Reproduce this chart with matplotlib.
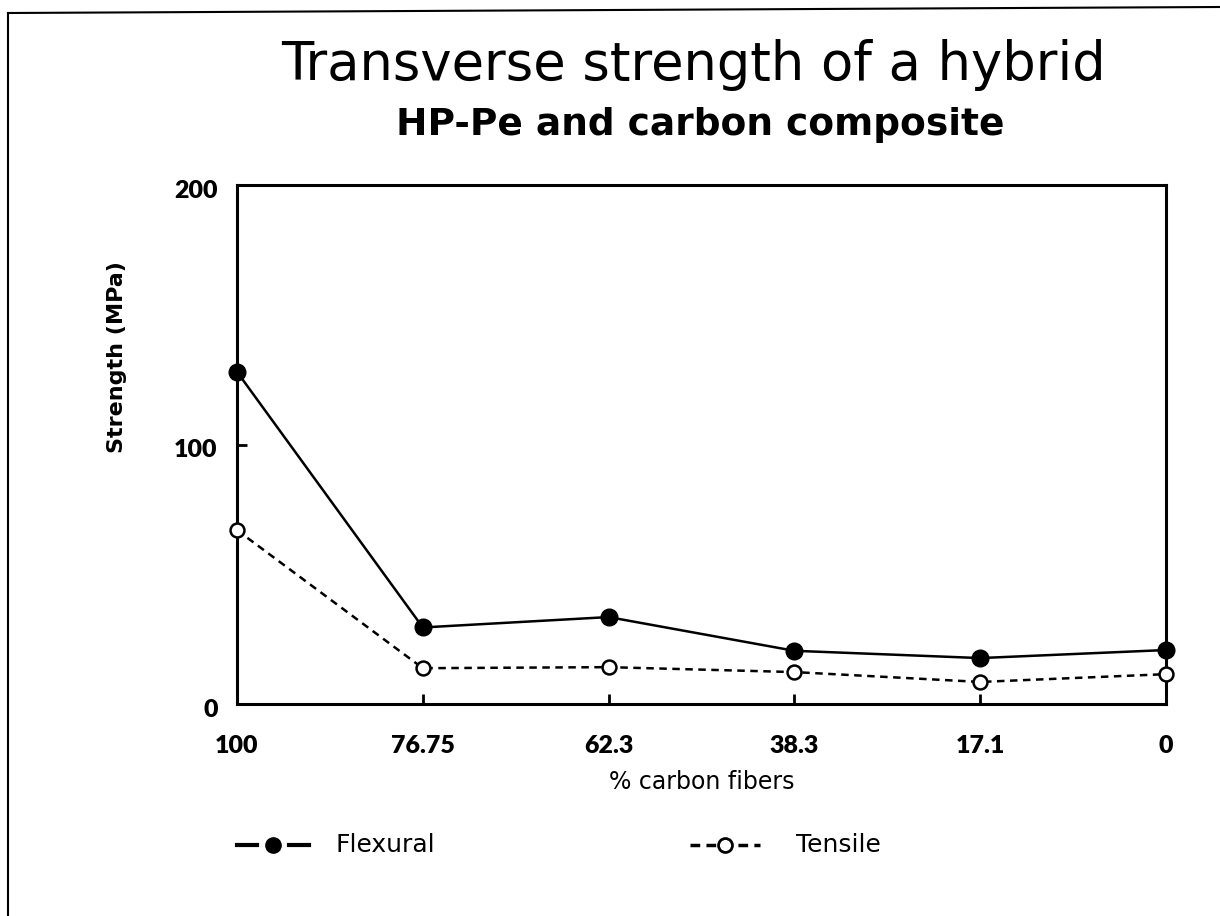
import matplotlib
matplotlib.use("Agg")
import matplotlib.pyplot as plt
import matplotlib.transforms as mtrans
from matplotlib.lines import Line2D


CATEGORIES = ["100", "76.75", "62.3", "38.3", "17.1", "0"]
FLEXURAL = [128, 29.5, 33.5, 20.5, 17.7, 20.8]
TENSILE = [67, 13.8, 14.2, 12.3, 8.5, 11.5]
Y_TICKS = [0, 100, 200]

TITLE = "Transverse strength of a hybrid"
SUBTITLE = "HP-Pe and carbon composite"
X_LABEL = "% carbon fibers"
Y_LABEL = "Strength (MPa)"

plt.rcParams["font.family"] = ["DejaVu Sans"]
BOLD_FONT = ["Lato", "DejaVu Sans"]

W, H = 1220, 916


def fx(px):
    return px / W


def fy(py):
    return 1 - py / H


def main():
    fig = plt.figure(figsize=(12.2, 9.16), dpi=100)
    ax = fig.add_axes([fx(237), fy(704), fx(1166) - fx(237), fy(185) - fy(704)])

    x = list(range(len(CATEGORIES)))

    ax.plot(x, FLEXURAL, color="black", linewidth=1.8, marker="o",
            markersize=12, markerfacecolor="black", markeredgecolor="black",
            clip_on=False, zorder=3)
    ax.plot(x, TENSILE, color="black", linewidth=1.8, linestyle=(0, (3, 2.2)),
            marker="o", markersize=10, markerfacecolor="white",
            markeredgecolor="black", markeredgewidth=1.8,
            clip_on=False, zorder=3)

    ax.set_xlim(0, len(CATEGORIES) - 1)
    ax.set_ylim(0, 200)

    ax.set_xticks(x)
    ax.set_xticklabels(CATEGORIES, fontsize=18, fontweight="heavy", family=BOLD_FONT)
    ax.set_yticks(Y_TICKS)
    ax.set_yticklabels([str(v) for v in Y_TICKS], fontsize=18, fontweight="heavy",
                       family=BOLD_FONT, va="center")
    ax.tick_params(axis="both", direction="in", length=7, width=2)
    ax.tick_params(axis="x", pad=22)
    ax.tick_params(axis="y", pad=14)
    # y tick labels sit a little below their ticks
    offset = mtrans.ScaledTranslation(0, -4 / 72, fig.dpi_scale_trans)
    for lbl in ax.get_yticklabels():
        lbl.set_transform(lbl.get_transform() + offset)

    for spine in ax.spines.values():
        spine.set_linewidth(2.2)

    ax.set_xlabel(X_LABEL, fontsize=17, va="center")
    ax.xaxis.set_label_coords(0.5, (704 - 782) / 519)
    ax.set_ylabel(Y_LABEL, fontsize=16, fontweight="bold", va="center")
    ax.yaxis.set_label_coords((117 - 237) / 929, (704 - 357) / 519)

    fig.text(fx(693), fy(65), TITLE, fontsize=38, ha="center", va="center")
    fig.text(fx(700), fy(125), SUBTITLE, fontsize=27, fontweight="bold",
             ha="center", va="center")

    # legend drawn by hand at the bottom
    ly = fy(845)
    for x0, x1 in [(237, 257), (289, 309)]:
        fig.add_artist(Line2D([fx(x0), fx(x1)], [ly, ly], color="black",
                              linewidth=3, transform=fig.transFigure))
    fig.add_artist(Line2D([fx(273)], [ly], color="black", marker="o",
                          markersize=11, linestyle="none",
                          transform=fig.transFigure))
    fig.text(fx(335), ly, "Flexural", fontsize=18, va="center")

    fig.add_artist(Line2D([fx(690), fx(760)], [ly, ly], color="black",
                          linewidth=2.5, linestyle=(0, (2.8, 1.8)),
                          transform=fig.transFigure))
    fig.add_artist(Line2D([fx(725)], [ly], color="black", marker="o",
                          markersize=10, markerfacecolor="white",
                          markeredgewidth=2, linestyle="none",
                          transform=fig.transFigure))
    fig.text(fx(796), ly, "Tensile", fontsize=18, va="center")

    # outer frame (left and top edges of the page)
    fig.add_artist(Line2D([fx(8), fx(8)], [0.0, fy(13)], color="black",
                          linewidth=1.5, transform=fig.transFigure))
    fig.add_artist(Line2D([fx(8), 1.0], [fy(13), fy(7)], color="black",
                          linewidth=1.5, transform=fig.transFigure))

    fig.savefig("out.png", dpi=100)


if __name__ == "__main__":
    main()
